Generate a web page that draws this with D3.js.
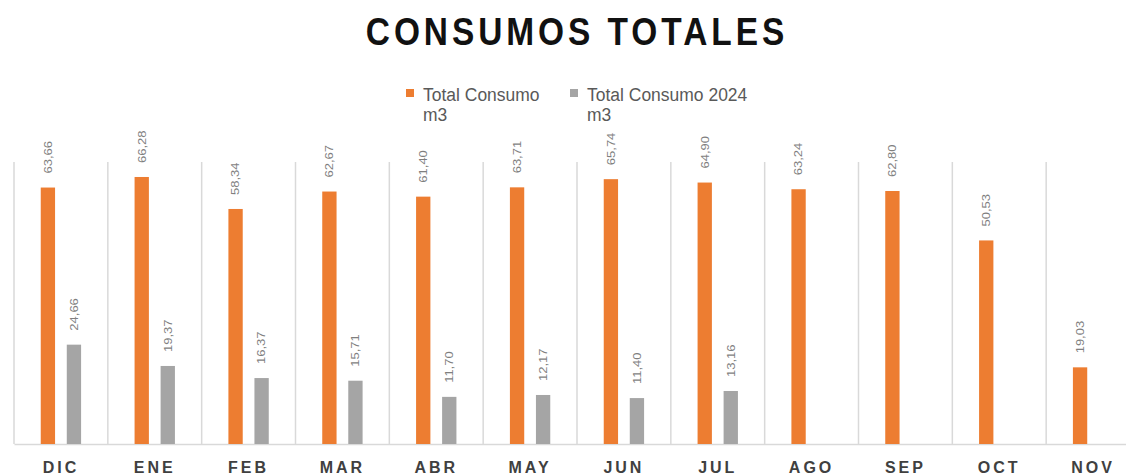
<!DOCTYPE html>
<html><head><meta charset="utf-8">
<script src="https://cdn.jsdelivr.net/npm/d3@7"></script>
<style>
html,body{margin:0;padding:0;background:#fff;}
svg{display:block;}
</style></head>
<body>
<svg id="chart" width="1126" height="476"></svg>
<script>
const categories = ["DIC","ENE","FEB","MAR","ABR","MAY","JUN","JUL","AGO","SEP","OCT","NOV"];
const totalConsumo = [63.66,66.28,58.34,62.67,61.40,63.71,65.74,64.90,63.24,62.80,50.53,19.03];
const totalConsumo2024 = [24.66,19.37,16.37,15.71,11.70,12.17,11.40,13.16,null,null,null,null];
const seriesNames = ["Total Consumo m3","Total Consumo 2024 m3"];
const seriesColors = ["#ED7D31","#A5A5A5"];
const yDomain = [0,70];

(function(){
const svg = d3.select("#chart");
const pLeft = 14, pRight = 1140, pTop = 162, pBottom = 444;
const sans = "'Liberation Sans',Arial,sans-serif";

const x0 = d3.scaleBand().domain(categories).range([pLeft, pRight]).paddingInner(0).paddingOuter(0);
const bw = x0.bandwidth();
const x1 = d3.scaleBand().domain([0,1]).range([bw*0.285, bw*0.715]).paddingInner(0.45);
const y = d3.scaleLinear().domain(yDomain).range([pBottom, pTop]);

// title
svg.append("text").attr("transform","translate(577,45) scale(0.88,1)").attr("text-anchor","middle")
  .attr("font-family",sans).attr("font-weight","bold")
  .attr("font-size",38).attr("letter-spacing","4.5px").attr("fill","#111")
  .text("CONSUMOS TOTALES");

// gridlines (category boundaries)
const bounds = categories.map(c => x0(c)).concat([pRight]);
svg.append("g").selectAll("line").data(bounds).join("line")
  .attr("x1", d=>d).attr("x2", d=>d).attr("y1", y(yDomain[1])).attr("y2", pBottom)
  .attr("stroke","#d9d9d9").attr("stroke-width",1.5);

// baseline axis
const xAxis = d3.axisBottom(x0).tickSize(0).tickPadding(14);
const gx = svg.append("g").attr("transform",`translate(0,${pBottom})`).call(xAxis);
gx.select(".domain").attr("stroke","#d9d9d9").attr("stroke-width",1.5);
gx.selectAll("text").attr("font-family",sans)
  .attr("font-weight","bold").attr("font-size",16).attr("letter-spacing","3px")
  .attr("fill","#404040").attr("dy","0.95em");

const series = [totalConsumo, totalConsumo2024];
const fmt = v => v.toFixed(2).replace(".", ",");

series.forEach((vals, si) => {
  const data = categories.map((c,i)=>({c, v: vals[i]})).filter(d => d.v != null);
  const g = svg.append("g");
  g.selectAll("rect").data(data).join("rect")
    .attr("x", d => x0(d.c) + x1(si))
    .attr("width", x1.bandwidth())
    .attr("y", d => y(d.v))
    .attr("height", d => pBottom - y(d.v))
    .attr("fill", seriesColors[si]);
  g.selectAll("text").data(data).join("text")
    .attr("transform", d => `translate(${x0(d.c) + x1(si) + x1.bandwidth()/2},${y(d.v) - 14}) rotate(-90) scale(1,0.85)`)
    .attr("text-anchor","start").attr("dy","0.35em")
    .attr("font-family", sans).attr("font-size",13).attr("fill","#7f7f7f")
    .text(d => fmt(d.v));
});

// legend
const legendItems = [
  {x: 406, lines: ["Total Consumo","m3"]},
  {x: 570, lines: ["Total Consumo 2024","m3"]}
];
legendItems.forEach((it, i) => {
  svg.append("rect").attr("x", it.x).attr("y", 89).attr("width", 8).attr("height", 8)
    .attr("fill", seriesColors[i]);
  const t = svg.append("text")
    .attr("transform", `translate(${it.x + 17},101) scale(0.92,1)`)
    .attr("font-family", sans).attr("font-size",19).attr("fill","#595959");
  it.lines.forEach((ln, k) => {
    t.append("tspan").attr("x", 0).attr("dy", k === 0 ? 0 : 20).text(ln);
  });
});
})();
</script>
</body></html>
